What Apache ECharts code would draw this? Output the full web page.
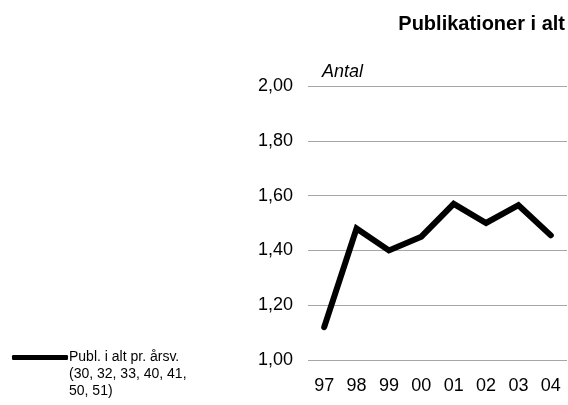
<!DOCTYPE html>
<html>
<head>
<meta charset="utf-8">
<script src="https://cdn.jsdelivr.net/npm/echarts@6/dist/echarts.min.js"></script>
<style>
  html, body { margin: 0; padding: 0; background: #fff; }
  #main { width: 568px; height: 405px; }
</style>
</head>
<body>
<div id="main"></div>
<script>
const years = ["97", "98", "99", "00", "01", "02", "03", "04"];
const publPerAarsv = [1.12, 1.48, 1.40, 1.45, 1.57, 1.50, 1.565, 1.455];
const seriesName = "Publ. i alt pr. årsv.";
const seriesNote = ["(30, 32, 33, 40, 41,", "50, 51)"];

const font = "Liberation Sans, Arial, sans-serif";
const myChart = echarts.init(document.getElementById("main"));
myChart.setOption({
  animation: false,
  textStyle: { fontFamily: font },
  title: {
    text: "Publikationer i alt",
    right: 3,
    top: 14,
    padding: 0,
    textStyle: { fontSize: 20, fontWeight: "bold", color: "#000", fontFamily: font },
  },
  legend: {
    left: 12,
    top: 315,
    padding: 0,
    icon: "roundRect",
    itemWidth: 56,
    itemHeight: 5,
    data: [seriesName],
    // two empty lines on top so the first real line sits level with the icon
    formatter: (name) => ["", "", name].concat(seriesNote).join("\n"),
    textStyle: {
      fontSize: 14,
      color: "#000",
      lineHeight: 17,
      padding: [0, 0, 0, -4],
    },
  },
  grid: {
    left: 308,
    right: 1,
    top: 86,
    bottom: 45,
  },
  xAxis: {
    type: "category",
    data: years,
    boundaryGap: true,
    axisLine: { show: false },
    axisTick: { show: false },
    axisLabel: { fontSize: 18, color: "#000", margin: 17 },
  },
  yAxis: {
    type: "value",
    name: "Antal",
    nameLocation: "end",
    nameGap: 5,
    nameTextStyle: { fontSize: 18, fontStyle: "italic", color: "#000", align: "left", padding: [0, 0, 0, 14] },
    min: 1,
    max: 2,
    interval: 0.2,
    axisLine: { show: false },
    axisTick: { show: false },
    axisLabel: {
      fontSize: 18,
      color: "#000",
      margin: 15,
      formatter: (v) => v.toFixed(2).replace(".", ","),
    },
    splitLine: { lineStyle: { color: "#a6a6a6", width: 1 } },
  },
  series: [
    {
      name: seriesName,
      type: "line",
      data: publPerAarsv,
      symbol: "none",
      color: "#000",
      lineStyle: { width: 6, color: "#000", cap: "round", join: "miter" },
    },
  ],
});
</script>
</body>
</html>
